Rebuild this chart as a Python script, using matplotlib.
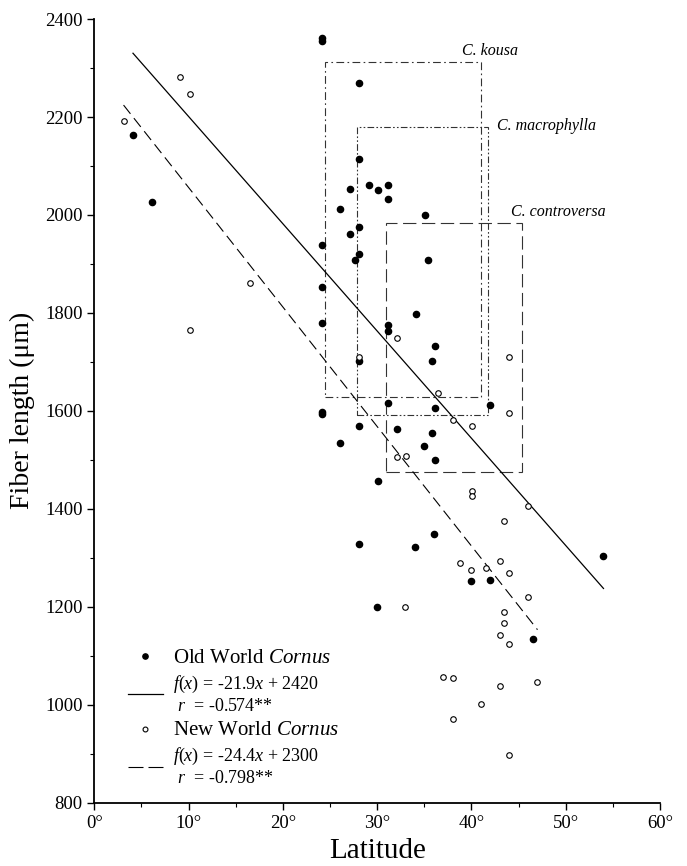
import matplotlib
matplotlib.use("Agg")
import matplotlib.pyplot as plt
from matplotlib.patches import Rectangle
from matplotlib.lines import Line2D
import numpy as np

plt.rcParams['font.family'] = ['Liberation Serif', 'DejaVu Serif']
plt.rcParams['mathtext.fontset'] = 'custom'
plt.rcParams['mathtext.rm'] = 'Liberation Serif'
plt.rcParams['mathtext.it'] = 'Liberation Serif:italic'

# Old World Cornus (filled dots)
old_lat = [4.1, 6.1, 24.1, 24.1, 24.1, 24.1, 24.1, 24.1, 24.1, 26.1, 26.1,
           27.1, 27.1, 27.6, 28.1, 28.1, 28.1, 28.1, 28.1, 28.1, 28.1, 29.1,
           30.1, 30.1, 30.0, 31.1, 31.1, 31.1, 31.1, 31.1, 32.1, 34.1, 34.0,
           35.1, 35.4, 35.0, 35.8, 35.8, 36.1, 36.1, 36.1, 36.0, 40.0, 42.0,
           42.0, 46.5, 54.0]
old_fiber = [2163, 2026, 2362, 2355, 1939, 1852, 1779, 1598, 1593, 2012, 1535,
             2054, 1961, 1908, 2270, 2115, 1975, 1921, 1702, 1570, 1328, 2061,
             2050, 1457, 1200, 2061, 2032, 1776, 1763, 1617, 1564, 1798, 1322,
             2000, 1908, 1529, 1702, 1554, 1733, 1606, 1500, 1348, 1253, 1613,
             1255, 1135, 1304]

# New World Cornus (open circles)
new_lat = [3.1, 9.1, 10.1, 10.1, 16.5, 28.1, 32.1, 32.1, 33.1, 33.0, 36.4,
           37.0, 38.0, 38.0, 38.0, 38.8, 40.1, 40.1, 40.1, 40.0, 41.0, 41.5,
           43.0, 43.0, 43.0, 43.5, 43.5, 43.5, 44.0, 44.0, 44.0, 44.0, 44.0,
           46.0, 46.0, 47.0]
new_fiber = [2192, 2281, 2247, 1765, 1862, 1709, 1749, 1506, 1507, 1200, 1636,
             1057, 1582, 1054, 971, 1289, 1570, 1437, 1427, 1275, 1001, 1280,
             1293, 1142, 1038, 1376, 1190, 1167, 1710, 1595, 1270, 1125, 898,
             1406, 1220, 1047]

# regressions: slope, intercept, latitude range
old_fit = (-21.9, 2420, 4.1, 54.0)
new_fit = (-24.4, 2300, 3.1, 47.0)

# species ranges (latitude span, fiber span)
box_names = ['C. kousa', 'C. macrophylla', 'C. controversa']
box_lat = [(24.5, 41.0), (27.9, 41.7), (30.9, 45.4)]
box_fiber = [(1628, 2312), (1592, 2180), (1476, 1983)]
box_styles = [(0, (7, 3, 1.5, 3)), (0, (6, 2, 1.5, 2, 1.5, 2)), (0, (12, 5))]
label_pos = [(39.0, 2318, 'bottom'), (42.7, 2182, 'center'), (44.2, 1990, 'bottom')]

fig = plt.figure(figsize=(6.87, 8.66), dpi=100)
ax = fig.add_axes([0.1373, 0.0731, 0.8235, 0.9049])

for (x0, x1), (y0, y1), ls in zip(box_lat, box_fiber, box_styles):
    r = Rectangle((x0, y0), x1 - x0, y1 - y0, fill=False, edgecolor='#333333',
                  linewidth=0.8, linestyle=ls)
    ax.add_patch(r)
for name, (lx, ly, va) in zip(box_names, label_pos):
    ax.text(lx, ly, name, fontsize=11.5, style='italic', va=va, ha='left')

lx = np.array(old_fit[2:])
l1, = ax.plot(lx, old_fit[0] * lx + old_fit[1], color='black', linewidth=0.9)
nx = np.array(new_fit[2:])
ax.plot(nx, new_fit[0] * nx + new_fit[1], color='black', linewidth=0.8,
        linestyle=(0, (10, 5)))

ax.scatter(old_lat, old_fiber, s=20, color='black', zorder=3)
ax.scatter(new_lat, new_fiber, s=16, facecolor='white', edgecolor='black',
           linewidth=0.8, zorder=3)

# legend handles
h1 = Line2D([], [], linestyle='none', marker='o', markersize=3.8, color='black')
h3 = Line2D([], [], linestyle='none', marker='o', markersize=3.5,
            markerfacecolor='white', markeredgecolor='black', markeredgewidth=0.8)
h4 = Line2D([], [], color='black', linewidth=0.8, linestyle=(0, (13.5, 4.5)))
labels = ['Old World $\\mathit{Cornus}$',
          '$f(x)$ = -21.9$x$ + 2420\n $r$  = -0.574**',
          'New World $\\mathit{Cornus}$',
          '$f(x)$ = -24.4$x$ + 2300\n $r$  = -0.798**']
leg = ax.legend([h1, l1, h3, h4], labels, loc='lower left',
                bbox_to_anchor=(0.06, 0.02), frameon=False, fontsize=13,
                handlelength=1.9, handletextpad=0.6, labelspacing=0.35,
                borderpad=0, borderaxespad=0)
for i, t in enumerate(leg.get_texts()):
    t.set_fontsize(15 if i % 2 == 0 else 13)

ax.set_xlim(0, 60)
ax.set_ylim(800, 2400)
ax.set_xticks(range(0, 61, 10))
ax.set_xticks(range(5, 60, 10), minor=True)
ax.set_xticklabels([f'{v}°' for v in range(0, 61, 10)])
ax.set_yticks(range(800, 2401, 200))
ax.set_yticks(range(900, 2400, 200), minor=True)
ax.tick_params(which='major', direction='out', length=5, width=1, labelsize=13.5)
ax.tick_params(which='minor', direction='out', length=3, width=0.8)
for s in ['top', 'right']:
    ax.spines[s].set_visible(False)
for s in ['left', 'bottom']:
    ax.spines[s].set_linewidth(1.3)

ax.set_xlabel('Latitude', fontsize=21, labelpad=5)
ax.set_ylabel('Fiber length (μm)', fontsize=20, labelpad=7)

fig.savefig('out.png', dpi=100)
